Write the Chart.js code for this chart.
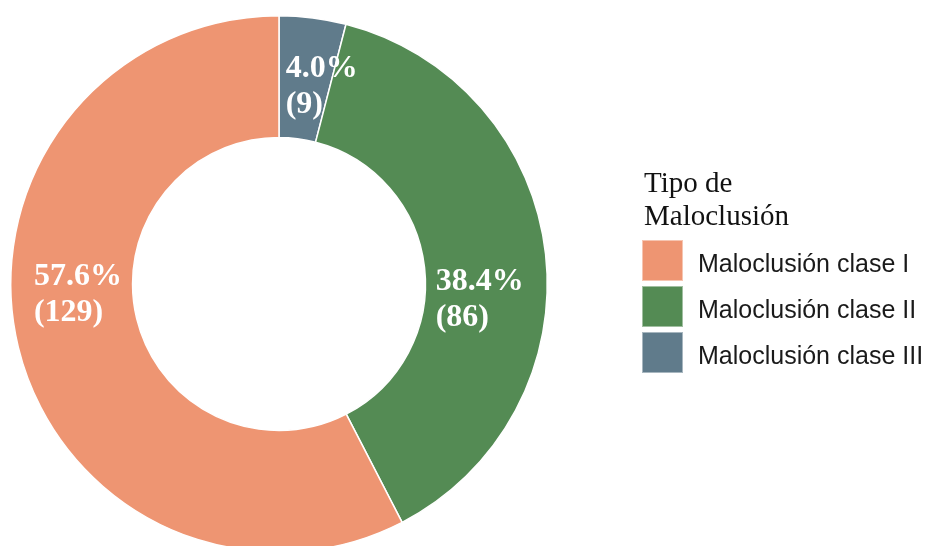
<!DOCTYPE html>
<html>
<head>
<meta charset="utf-8">
<script src="https://cdn.jsdelivr.net/npm/chart.js@4.4.1/dist/chart.umd.min.js"></script>
<style>
  html, body { margin: 0; padding: 0; background: #fff; width: 925px; height: 546px; overflow: hidden; }
  #wrap { position: relative; width: 925px; height: 546px; overflow: hidden; }
  #c { position: absolute; left: 0; top: 0; }
  .ttl { position: absolute; left: 644px; top: 166px; font-family: "Liberation Serif", "Times New Roman", serif; font-size: 29px; line-height: 33px; color: #111; white-space: nowrap; }
  .key { position: absolute; left: 642px; width: 41px; height: 41px; box-sizing: border-box; border: 1px solid rgba(255,255,255,0.45); }
  .lbl { position: absolute; left: 698px; font-family: "Liberation Sans", Arial, sans-serif; font-size: 25px; line-height: 41px; color: #1a1a1a; white-space: nowrap; }
</style>
</head>
<body>
<div id="wrap">
  <canvas id="c" width="925" height="570"></canvas>
  <div class="ttl">Tipo de<br>Maloclusión</div>
  <div id="legend"></div>
</div>
<script>
// ---- data (legend order) ----
const categories = ['Maloclusión clase I', 'Maloclusión clase II', 'Maloclusión clase III'];
const counts = [129, 86, 9];
const percentLabels = ['57.6%', '38.4%', '4.0%'];
const colors = ['#EE9572', '#548B54', '#607B8B'];
const legendTitle = ['Tipo de', 'Maloclusión'];

// drawn clockwise from the top: clase III, clase II, clase I
const order = [2, 1, 0];
const chartLabels = order.map(i => categories[i]);
const chartValues = order.map(i => counts[i]);
const chartColors = order.map(i => colors[i]);
const chartText = order.map(i => [percentLabels[i], '(' + counts[i] + ')']);
// small angular nudge (degrees) of each label, in drawing order
const labelShift = [5, 11, 10.5];

// legend (HTML, real text)
const leg = document.getElementById('legend');
categories.forEach((c, i) => {
  const k = document.createElement('div');
  k.className = 'key';
  k.style.top = (240 + i * 46) + 'px';
  k.style.background = colors[i];
  leg.appendChild(k);
  const t = document.createElement('div');
  t.className = 'lbl';
  t.style.top = (243 + i * 46) + 'px';
  t.textContent = c;
  leg.appendChild(t);
});

const labelPlugin = {
  id: 'sliceLabels',
  afterDatasetsDraw(chart) {
    const ctx = chart.ctx;
    const meta = chart.getDatasetMeta(0);
    ctx.save();
    ctx.font = 'bold 32px "Liberation Serif", "Times New Roman", serif';
    ctx.fillStyle = '#ffffff';
    ctx.textBaseline = 'middle';
    ctx.textAlign = 'left';
    meta.data.forEach((arc, i) => {
      const p = arc.getProps(['x', 'y', 'startAngle', 'endAngle', 'innerRadius', 'outerRadius'], true);
      const mid = (p.startAngle + p.endAngle) / 2 + labelShift[i] * Math.PI / 180;
      const r = (p.innerRadius + p.outerRadius) / 2 - 6;
      const cx = p.x + Math.cos(mid) * r;
      const cy = p.y + Math.sin(mid) * r;
      const lines = chartText[i];
      const w0 = ctx.measureText(lines[0]).width;
      const left = cx - w0 / 2;
      const lh = 36;
      lines.forEach((ln, j) => {
        ctx.fillText(ln, left, cy + (j - (lines.length - 1) / 2) * lh);
      });
    });
    ctx.restore();
  }
};

new Chart(document.getElementById('c'), {
  type: 'doughnut',
  data: {
    labels: chartLabels,
    datasets: [{
      data: chartValues,
      backgroundColor: chartColors,
      borderColor: '#ffffff',
      borderWidth: 1.5,
      hoverOffset: 0
    }]
  },
  options: {
    responsive: false,
    animation: false,
    cutout: '54.6%',
    rotation: 0,
    layout: { padding: { left: 10, right: 377, top: 15, bottom: 17 } },
    plugins: {
      legend: { display: false },
      tooltip: { enabled: false }
    }
  },
  plugins: [labelPlugin]
});
</script>
</body>
</html>
